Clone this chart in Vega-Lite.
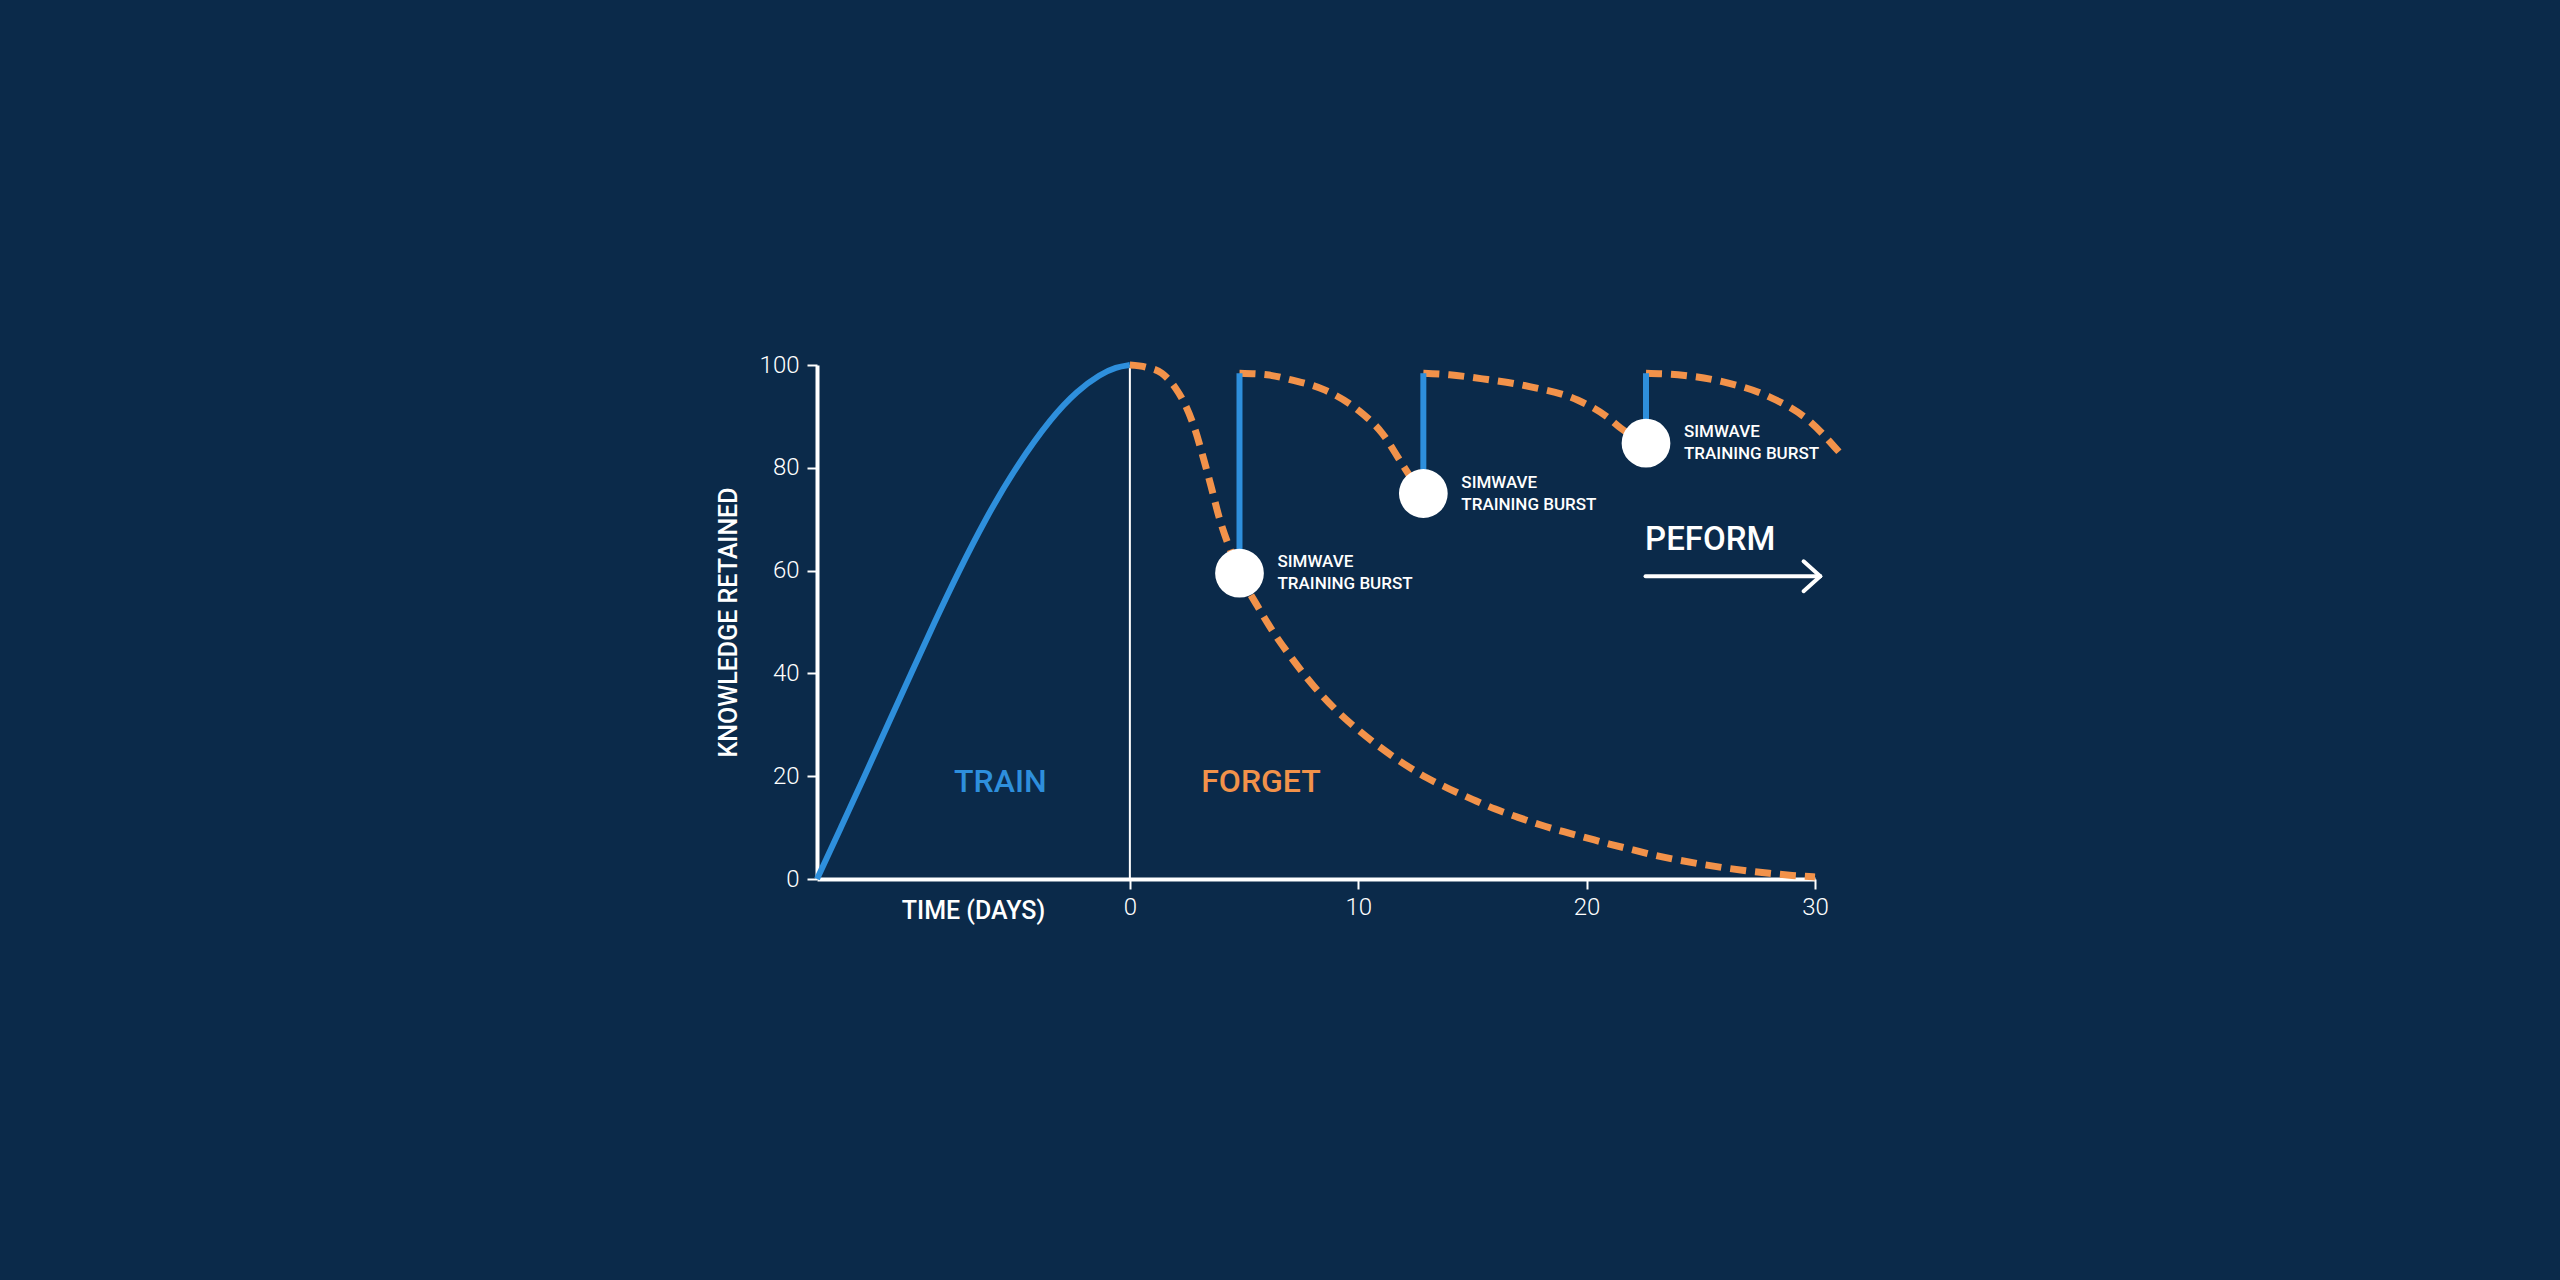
{
  "$schema": "https://vega.github.io/schema/vega-lite/v6.json",
  "width": 998,
  "height": 514,
  "autosize": {"type": "none"},
  "padding": {"left": 817, "top": 365, "right": 745, "bottom": 401},
  "background": "#0B2A4A",
  "view": {"stroke": null},
  "config": {
    "font": "Roboto",
    "axis": {
      "grid": false,
      "domainColor": "#FFFFFF",
      "domainWidth": 4,
      "tickColor": "#FFFFFF",
      "tickWidth": 2,
      "tickSize": 10,
      "labelFlush": false,
      "labelColor": "#FFFFFF",
      "labelFont": "Roboto",
      "labelFontWeight": 300,
      "labelFontSize": 24,
      "titleColor": "#FFFFFF",
      "titleFont": "Roboto",
      "titleFontWeight": 500,
      "titleFontSize": 25
    }
  },
  "datasets": {
    "curves": [
      {"series": "train", "day": -13.7, "value": 0},
      {"series": "train", "day": -12.65, "value": 10},
      {"series": "train", "day": -11.62, "value": 20},
      {"series": "train", "day": -10.6, "value": 30},
      {"series": "train", "day": -9.58, "value": 40},
      {"series": "train", "day": -8.55, "value": 50},
      {"series": "train", "day": -7.48, "value": 60},
      {"series": "train", "day": -6.33, "value": 70},
      {"series": "train", "day": -5.02, "value": 80},
      {"series": "train", "day": -3.4, "value": 90},
      {"series": "train", "day": -2.3, "value": 95},
      {"series": "train", "day": -1.3, "value": 98.2},
      {"series": "train", "day": -0.6, "value": 99.6},
      {"series": "train", "day": 0, "value": 100},
      {"series": "forget", "day": 0, "value": 100},
      {"series": "forget", "day": 0.7, "value": 99.6},
      {"series": "forget", "day": 1.4, "value": 98.4},
      {"series": "forget", "day": 2.0, "value": 95.5},
      {"series": "forget", "day": 2.45, "value": 92},
      {"series": "forget", "day": 2.85, "value": 87.5},
      {"series": "forget", "day": 3.2, "value": 82.2},
      {"series": "forget", "day": 3.55, "value": 76.5},
      {"series": "forget", "day": 3.9, "value": 70.5},
      {"series": "forget", "day": 4.45, "value": 63.4},
      {"series": "forget", "day": 4.8, "value": 59.5},
      {"series": "forget", "day": 5.6, "value": 53},
      {"series": "forget", "day": 6.3, "value": 47.9},
      {"series": "forget", "day": 7, "value": 43.5},
      {"series": "forget", "day": 8, "value": 37.8},
      {"series": "forget", "day": 9, "value": 33},
      {"series": "forget", "day": 10, "value": 29},
      {"series": "forget", "day": 11, "value": 25.5},
      {"series": "forget", "day": 12, "value": 22.4},
      {"series": "forget", "day": 13, "value": 19.7},
      {"series": "forget", "day": 14, "value": 17.5},
      {"series": "forget", "day": 15, "value": 15.5},
      {"series": "forget", "day": 16, "value": 13.6},
      {"series": "forget", "day": 17, "value": 12},
      {"series": "forget", "day": 18, "value": 10.5},
      {"series": "forget", "day": 19, "value": 9.2},
      {"series": "forget", "day": 20, "value": 8},
      {"series": "forget", "day": 21, "value": 6.8},
      {"series": "forget", "day": 22, "value": 5.7},
      {"series": "forget", "day": 23, "value": 4.6},
      {"series": "forget", "day": 24, "value": 3.7},
      {"series": "forget", "day": 25, "value": 2.9},
      {"series": "forget", "day": 26, "value": 2.2},
      {"series": "forget", "day": 27, "value": 1.6},
      {"series": "forget", "day": 28, "value": 1.1},
      {"series": "forget", "day": 29, "value": 0.7},
      {"series": "forget", "day": 30, "value": 0.4},
      {"series": "refresh1", "day": 4.8, "value": 98.4},
      {"series": "refresh1", "day": 6, "value": 98.1},
      {"series": "refresh1", "day": 7.07, "value": 97.1},
      {"series": "refresh1", "day": 8.55, "value": 95.1},
      {"series": "refresh1", "day": 10, "value": 91.2},
      {"series": "refresh1", "day": 11.05, "value": 86.7},
      {"series": "refresh1", "day": 11.9, "value": 80.9},
      {"series": "refresh1", "day": 12.4, "value": 77.5},
      {"series": "refresh1", "day": 12.85, "value": 75},
      {"series": "refresh2", "day": 12.85, "value": 98.4},
      {"series": "refresh2", "day": 14, "value": 98.1},
      {"series": "refresh2", "day": 15.45, "value": 97.3},
      {"series": "refresh2", "day": 17.5, "value": 95.8},
      {"series": "refresh2", "day": 19.6, "value": 93.2},
      {"series": "refresh2", "day": 20.9, "value": 89.9},
      {"series": "refresh2", "day": 21.5, "value": 87.7},
      {"series": "refresh2", "day": 22.6, "value": 84.8},
      {"series": "refresh3", "day": 22.6, "value": 98.4},
      {"series": "refresh3", "day": 24, "value": 98.1},
      {"series": "refresh3", "day": 25.9, "value": 96.8},
      {"series": "refresh3", "day": 28, "value": 93.8},
      {"series": "refresh3", "day": 29.7, "value": 89.3},
      {"series": "refresh3", "day": 31.05, "value": 83.1}
    ],
    "bursts": [
      {"day": 4.8, "value": 59.5, "top": 98.4, "label": "SIMWAVE\nTRAINING BURST"},
      {"day": 12.85, "value": 75, "top": 98.4, "label": "SIMWAVE\nTRAINING BURST"},
      {"day": 22.6, "value": 84.8, "top": 98.4, "label": "SIMWAVE\nTRAINING BURST"}
    ],
    "phases": [
      {"phase": "TRAIN", "day": -5.67, "value": 18.9},
      {"phase": "FORGET", "day": 5.74, "value": 18.9}
    ],
    "arrow": [
      {"day": 22.58, "value": 58.9, "day2": 30.23, "value2": 58.9},
      {"day": 29.5, "value": 61.8, "day2": 30.23, "value2": 58.9},
      {"day": 29.5, "value": 56.0, "day2": 30.23, "value2": 58.9}
    ]
  },
  "encoding": {
    "x": {
      "field": "day",
      "type": "quantitative",
      "scale": {"domain": [-13.7, 30], "nice": false, "zero": false},
      "axis": {
        "values": [0, 10, 20, 30],
        "labelPadding": 6,
        "title": "TIME (DAYS)",
        "titleX": 156,
        "titleY": 31,
        "titleAlign": "center",
        "titleBaseline": "middle"
      }
    },
    "y": {
      "field": "value",
      "type": "quantitative",
      "scale": {"domain": [0, 100], "nice": false},
      "axis": {
        "values": [0, 20, 40, 60, 80, 100],
        "labelPadding": 8,
        "title": "KNOWLEDGE RETAINED",
        "titlePadding": 18
      }
    }
  },
  "layer": [
    {
      "data": {"values": [{"day": 0, "value": 0, "top": 100}]},
      "mark": {"type": "rule", "color": "#FFFFFF", "strokeWidth": 2},
      "encoding": {"y2": {"field": "top"}}
    },
    {
      "data": {"name": "curves"},
      "transform": [{"filter": "datum.series == 'train'"}],
      "mark": {"type": "line", "color": "#2E8FDC", "strokeWidth": 6, "interpolate": "basis"},
      "encoding": {}
    },
    {
      "data": {"name": "curves"},
      "transform": [{"filter": "datum.series != 'train'"}],
      "mark": {"type": "line", "color": "#F2924A", "strokeWidth": 7, "strokeDash": [16, 9], "interpolate": "monotone"},
      "encoding": {"detail": {"field": "series", "type": "nominal"}}
    },
    {
      "data": {"name": "bursts"},
      "mark": {"type": "rule", "color": "#2E8FDC", "strokeWidth": 6},
      "encoding": {"y2": {"field": "top"}}
    },
    {
      "data": {"name": "bursts"},
      "mark": {"type": "point", "filled": true, "color": "#FFFFFF", "opacity": 1, "size": 2376},
      "encoding": {}
    },
    {
      "data": {"name": "bursts"},
      "mark": {
        "type": "text",
        "align": "left",
        "baseline": "middle",
        "dx": 38,
        "dy": -11,
        "color": "#FFFFFF",
        "font": "Roboto",
        "fontWeight": 500,
        "fontSize": 17,
        "lineHeight": 22,
        "lineBreak": "\n"
      },
      "encoding": {"text": {"field": "label"}}
    },
    {
      "data": {"name": "phases"},
      "mark": {"type": "text", "align": "center", "baseline": "middle", "font": "Roboto", "fontWeight": 500, "fontSize": 32},
      "encoding": {
        "text": {"field": "phase"},
        "color": {
          "field": "phase",
          "type": "nominal",
          "scale": {"domain": ["TRAIN", "FORGET"], "range": ["#2E8FDC", "#F2924A"]},
          "legend": null
        }
      }
    },
    {
      "data": {"values": [{"day": 22.56, "value": 66, "word": "PEFORM"}]},
      "mark": {"type": "text", "align": "left", "baseline": "middle", "color": "#FFFFFF", "font": "Roboto", "fontWeight": 500, "fontSize": 33},
      "encoding": {"text": {"field": "word"}}
    },
    {
      "data": {"name": "arrow"},
      "mark": {"type": "rule", "color": "#FFFFFF", "strokeWidth": 4, "strokeCap": "round"},
      "encoding": {"x2": {"field": "day2"}, "y2": {"field": "value2"}}
    }
  ]
}
